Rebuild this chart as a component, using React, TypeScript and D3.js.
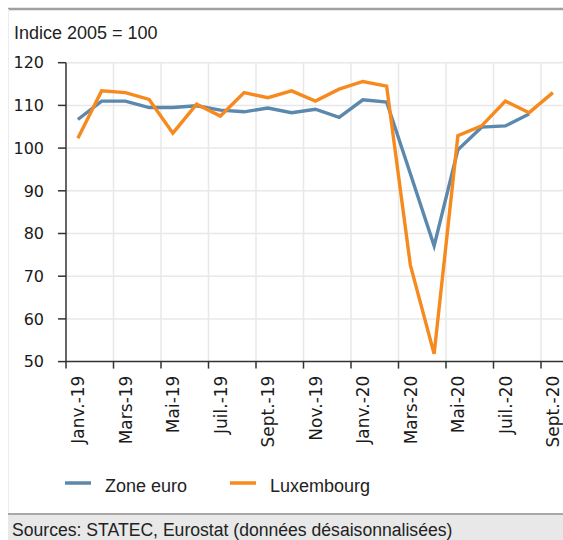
import React from "react";
import * as d3 from "d3";

const months = [
  "Janv.-19", "Févr.-19", "Mars-19", "Avr.-19", "Mai-19", "Juin-19", "Juil.-19",
  "Août-19", "Sept.-19", "Oct.-19", "Nov.-19", "Déc.-19", "Janv.-20", "Févr.-20",
  "Mars-20", "Avr.-20", "Mai-20", "Juin-20", "Juil.-20", "Août-20", "Sept.-20",
];
const zoneEuro: (number | null)[] = [
  106.7, 111.0, 111.0, 109.5, 109.5, 109.9, 108.9, 108.5, 109.4, 108.3, 109.1,
  107.2, 111.3, 110.8, 94.0, 77.1, 99.6, 104.9, 105.2, 108.0, null,
];
const luxembourg: (number | null)[] = [
  102.3, 113.4, 113.0, 111.4, 103.5, 110.3, 107.5, 113.0, 111.8, 113.4, 111.0,
  113.8, 115.6, 114.5, 72.6, 51.8, 102.9, 105.2, 111.0, 108.3, 113.0,
];
const yTicks = [50, 60, 70, 80, 90, 100, 110, 120];
const seriesNames = ["Zone euro", "Luxembourg"];
const colors = ["#5b88ad", "#f68a1f"];

export default function App() {
  const W = 563;
  const H = 540;
  const left = 66;
  const right = 564.75;
  const top = 62.7;
  const bottom = 361.6;

  const x = d3.scaleBand<string>().domain(months).range([left, right]).padding(0);
  const y = d3.scaleLinear().domain([50, 120]).range([bottom, top]);
  const cx = (m: string) => (x(m) as number) + x.bandwidth() / 2;

  const line = d3
    .line<number | null>()
    .defined((d) => d !== null)
    .x((_, i) => cx(months[i]))
    .y((d) => y(d as number));

  const tickIdx = months.map((_, i) => i).filter((i) => i % 2 === 0);
  const tickFont = "'DejaVu Sans', sans-serif";
  const textFont = "'Liberation Sans', Arial, sans-serif";

  return (
    <svg
      width={W}
      height={H}
      style={{ position: "absolute", left: 0, top: 0, background: "#fff" }}
    >
      {/* frame */}
      <line x1={8} x2={W} y1={9} y2={9} stroke="#a0a0a0" strokeWidth={2.5} />
      <line x1={8.5} x2={8.5} y1={9} y2={514} stroke="#ececec" strokeWidth={1} />
      <rect x={8} y={514} width={W - 8} height={H - 514} fill="#e8e8e8" />
      <line x1={8} x2={W} y1={514} y2={514} stroke="#a8a8a8" strokeWidth={2} />

      <text x={14} y={39} fontFamily={textFont} fontSize={18} fill="#222">
        Indice 2005 = 100
      </text>

      {/* grid */}
      {yTicks.filter((t) => t !== 50).map((t) => (
        <line key={"gy" + t} x1={left} x2={W} y1={y(t)} y2={y(t)} stroke="#e8e8e8" strokeWidth={1.5} />
      ))}
      {tickIdx.filter((i) => i > 0).map((i) => (
        <line key={"gx" + i} x1={x(months[i]) as number} x2={x(months[i]) as number} y1={top} y2={bottom} stroke="#e8e8e8" strokeWidth={1.5} />
      ))}

      {/* axes */}
      <line x1={left} x2={left} y1={top} y2={bottom} stroke="#333" strokeWidth={1.5} />
      <line x1={left} x2={W} y1={bottom} y2={bottom} stroke="#333" strokeWidth={1.5} />
      {yTicks.map((t) => (
        <g key={"yt" + t}>
          <line x1={left - 8} x2={left} y1={y(t)} y2={y(t)} stroke="#333" strokeWidth={1.5} />
          <text x={44} y={y(t)} dy="0.36em" textAnchor="end" fontFamily={tickFont} fontSize={16} fill="#1a1a1a">
            {t}
          </text>
        </g>
      ))}
      {tickIdx.map((i) => {
        const xt = x(months[i]) as number;
        return (
          <g key={"xt" + i}>
            <line x1={xt} x2={xt} y1={bottom} y2={bottom + 7} stroke="#333" strokeWidth={1.5} />
            <text
              transform={`translate(${cx(months[i])},${bottom + 14}) rotate(-90)`}
              dy="0.36em"
              textAnchor="end"
              fontFamily={tickFont}
              fontSize={17}
              fill="#1a1a1a"
            >
              {months[i]}
            </text>
          </g>
        );
      })}

      {/* lines */}
      <path d={line(zoneEuro) || ""} fill="none" stroke={colors[0]} strokeWidth={3.4} />
      <path d={line(luxembourg) || ""} fill="none" stroke={colors[1]} strokeWidth={3.4} />

      {/* legend */}
      {seriesNames.map((n, i) => {
        const lx = i === 0 ? 65 : 230;
        return (
          <g key={n}>
            <line x1={lx} x2={lx + 26} y1={483} y2={483} stroke={colors[i]} strokeWidth={3.5} />
            <text x={lx + 40} y={492} fontFamily={textFont} fontSize={18} fill="#222">
              {n}
            </text>
          </g>
        );
      })}

      <text x={12} y={536} fontFamily={textFont} fontSize={17.6} fill="#222">
        Sources: STATEC, Eurostat (données désaisonnalisées)
      </text>
    </svg>
  );
}
